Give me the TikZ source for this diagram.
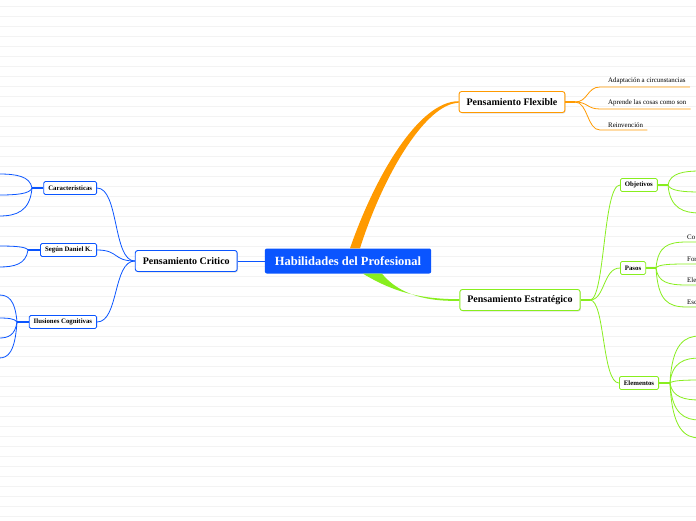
\documentclass[tikz,border=0pt]{standalone}
\usepackage{fontspec}
\setmainfont{Liberation Serif}
\usetikzlibrary{positioning,shadows}
\definecolor{mmblue}{HTML}{0A55FF}
\definecolor{mmorange}{HTML}{FF9A00}
\definecolor{mmgreen}{HTML}{88EE1E}
\definecolor{ruleline}{HTML}{F3F3F3}

\begin{document}
\begin{tikzpicture}[x=1pt, y=-1pt,
  root/.style={fill=mmblue, text=white, rounded corners=2pt, font=\bfseries\fontsize{12.5}{14}\selectfont, minimum height=25pt, inner xsep=10pt},
  topic/.style={draw, fill=white, rounded corners=2.5pt, line width=0.9pt, font=\bfseries\fontsize{10}{12}\selectfont, minimum height=21pt, inner xsep=7.5pt, drop shadow={opacity=0.25, shadow xshift=0.8pt, shadow yshift=-1pt}},
  sub/.style={draw, fill=white, rounded corners=1.5pt, line width=0.8pt, font=\bfseries\fontsize{6.8}{8}\selectfont, minimum height=13pt, inner xsep=4.5pt, inner ysep=1pt},
  leaf/.style={font=\fontsize{6.9}{8}\selectfont, anchor=south west, inner xsep=0pt, inner ysep=2.5pt},
  link/.style={line width=0.8pt},
  stub/.style={line width=2.2pt}]

\useasboundingbox (0,0) rectangle (696,520);
\fill[white] (0,0) rectangle (696,520);
\foreach \y in {6,16,...,516} \draw[ruleline, line width=0.6pt] (0,\y) -- (696,\y);

% centre and main topics
\node[root] (root) at (348,261) {Habilidades del Profesional};
\node[topic, draw=mmblue, left=27pt of root] (critico) {Pensamiento Critico};
\node[topic, draw=mmorange] (flex) at (512,102) {Pensamiento Flexible};
\node[topic, draw=mmgreen] (estra) at (520,300) {Pensamiento Estratégico};

\draw[mmblue, link] (critico) -- (root);
\fill[mmorange] ([xshift=2pt]root.north) .. controls +(25,-72) and +(-40,0) .. ([yshift=0.8pt]flex.west)
  -- ([yshift=-0.8pt]flex.west) .. controls +(-34,1) and +(22,-70) .. ([xshift=12pt]root.north) -- cycle;
\fill[mmgreen] ([xshift=15pt]root.south) .. controls +(30,18) and +(-40,0) .. ([yshift=0.8pt]estra.west)
  -- ([yshift=-0.8pt]estra.west) .. controls +(-40,1) and +(14,17) .. ([xshift=34pt]root.south) -- cycle;

% Pensamiento Critico
\node[sub, draw=mmblue, anchor=east] (carac) at (97,188) {Caracteristicas};
\node[sub, draw=mmblue, anchor=east] (daniel) at (97,250) {Según Daniel K.};
\node[sub, draw=mmblue, anchor=east] (ilus) at (97,322) {Ilusiones Cognitivas};
\foreach \n in {carac,daniel,ilus}
  \draw[mmblue, link] (critico.west) .. controls +(-22,0) and +(22,0) .. (\n.east);

\coordinate (caracj) at (32,188);
\draw[mmblue, stub] (carac.west) -- (caracj);
\foreach \ey [count=\i] in {174,195,216} {
  \pgfmathsetmacro\cy{188+0.85*(\ey-188)}
  \coordinate (carac-\i) at (-1,\ey);
  \draw[mmblue, link] (caracj) .. controls (30,\cy) and (16,\ey) .. (carac-\i);
}
\coordinate (danielj) at (28,250);
\draw[mmblue, stub] (daniel.west) -- (danielj);
\foreach \ey [count=\i] in {246,267} {
  \pgfmathsetmacro\cy{250+0.85*(\ey-250)}
  \coordinate (daniel-\i) at (-1,\ey);
  \draw[mmblue, link] (danielj) .. controls (26,\cy) and (14,\ey) .. (daniel-\i);
}
\coordinate (ilusj) at (17,322);
\draw[mmblue, stub] (ilus.west) -- (ilusj);
\foreach \ey [count=\i] in {295,318,338,358} {
  \pgfmathsetmacro\cy{322+0.85*(\ey-322)}
  \coordinate (ilus-\i) at (-1,\ey);
  \draw[mmblue, link] (ilusj) .. controls (15,\cy) and (8,\ey) .. (ilus-\i);
}

% Pensamiento Flexible
\coordinate (flexj) at (575,102);
\draw[mmorange, stub] (flex.east) -- (flexj);
\node[leaf] (adapt) at (608,87) {Adaptación a circunstancias};
\node[leaf] (aprende) at (608,109) {Aprende las cosas como son};
\node[leaf] (reinv) at (608,130) {Reinvención};
\foreach \n in {adapt,aprende,reinv}
  \draw[mmorange, link] (flexj) .. controls +(13,0) and +(-13,0) .. ([xshift=-8pt]\n.south west) -- ([xshift=4pt]\n.south east);

% Pensamiento Estrategico
\coordinate (estraj) at (590,300);
\draw[mmgreen, stub] (estra.east) -- (estraj);
\node[sub, draw=mmgreen, anchor=west] (obj) at (620,185) {Objetivos};
\node[sub, draw=mmgreen, anchor=west] (pasos) at (620,268) {Pasos};
\node[sub, draw=mmgreen, anchor=west] (elem) at (619,383) {Elementos};
\foreach \n in {obj,pasos,elem}
  \draw[mmgreen, link] (estraj) .. controls +(15,0) and +(-17,0) .. (\n.west);

\coordinate (objj) at (668,185);
\draw[mmgreen, stub] (obj.east) -- (objj);
\foreach \ey [count=\i] in {171,192,213} {
  \pgfmathsetmacro\cy{185+0.85*(\ey-185)}
  \coordinate (obj-\i) at (700,\ey);
  \draw[mmgreen, link] (objj) .. controls (670,\cy) and (684,\ey) .. (obj-\i);
}
\coordinate (pasosj) at (656,268);
\draw[mmgreen, stub] (pasos.east) -- (pasosj);
\foreach \ey/\txt [count=\i] in {242/Co,264/For,285/Ele,307/Esc} {
  \pgfmathsetmacro\cy{268+0.85*(\ey-268)}
  \node[leaf] (pasos-\i) at (687,\ey) {\txt};
  \draw[mmgreen, link] (pasosj) .. controls (658,\cy) and (668,\ey) .. (pasos-\i.south west) -- (700,\ey);
}
\coordinate (elemj) at (670,383);
\draw[mmgreen, stub] (elem.east) -- (elemj);
\foreach \ey [count=\i] in {336,358,380,400,420,438} {
  \pgfmathsetmacro\cy{383+0.85*(\ey-383)}
  \coordinate (elem-\i) at (700,\ey);
  \draw[mmgreen, link] (elemj) .. controls (672,\cy) and (685,\ey) .. (elem-\i);
}
\end{tikzpicture}
\end{document}
